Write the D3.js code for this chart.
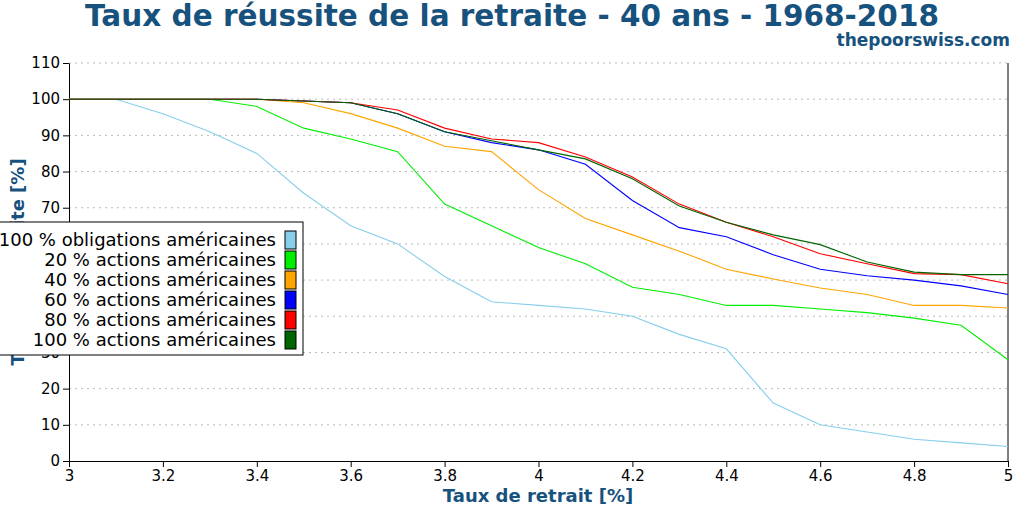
<!DOCTYPE html><html><head><meta charset="utf-8"><script src="https://cdn.jsdelivr.net/npm/d3@7"></script>
<style>body{margin:0;background:#fff}text{font-family:"DejaVu Sans"}</style></head><body><svg width="1024" height="512"></svg><script>
const rates=[3.0,3.1,3.2,3.3,3.4,3.5,3.6,3.7,3.8,3.9,4.0,4.1,4.2,4.3,4.4,4.5,4.6,4.7,4.8,4.9,5.0];
const bonds=[100,100,96,91,85,74,65,60,51,44,43,42,40,35,31,16,10,8,6,5,4];
const s20=[100,100,100,100,98,92,89,85.5,71,65,59,54.5,48,46,43,43,42,41,39.5,37.5,28];
const s40=[100,100,100,100,100,99,96,92,87,85.5,75,67,62.5,58,53,50.3,47.8,46,43,43,42.3];
const s60=[100,100,100,100,100,99.5,99,96,91,88,86,82,72,64.5,62,57,53,51.2,50,48.4,46];
const s80=[100,100,100,100,100,99.5,99,97,92,89,88,84,78.5,71,66,62,57.3,54.5,51.8,51.5,49];
const s100=[100,100,100,100,100,99.5,99,96,91,88.5,86,83.5,78,70.5,66,62.5,59.8,55,52.2,51.5,51.5];
const names=["100 % obligations américaines","20 % actions américaines","40 % actions américaines","60 % actions américaines","80 % actions américaines","100 % actions américaines"];
const colors=["#87ceeb","#00ee00","#ffa500","#0000ff","#ff0000","#006400"];
const series=[bonds,s20,s40,s60,s80,s100];
const yTicks=d3.range(0,111,10);
const svg=d3.select("svg");
const x=d3.scaleLinear().domain([3,5]).range([69,1008]);
const y=d3.scaleLinear().domain([0,110]).range([461,63]);
svg.append("g").selectAll("line").data(yTicks.slice(1)).join("line").attr("x1",69).attr("x2",1008).attr("y1",d=>y(d)).attr("y2",d=>y(d)).attr("stroke","#bbb").attr("stroke-dasharray","2,4");
const xa=svg.append("g").attr("transform","translate(0,461)").call(d3.axisBottom(x).tickValues(d3.range(3,5.01,0.2)).tickFormat(d=>d3.format("~g")(+d.toFixed(1))).tickSizeOuter(0));
const ya=svg.append("g").attr("transform","translate(69,0)").call(d3.axisLeft(y).tickValues(yTicks).tickSizeOuter(0));
svg.append("line").attr("x1",1008).attr("x2",1008).attr("y1",63).attr("y2",461).attr("stroke","#000");
[xa,ya].forEach(a=>{a.selectAll("text").attr("font-size",15).attr("fill","#000");a.select(".domain").attr("stroke","#000");});
const line=d3.line().x((d,i)=>x(rates[i])).y(d=>y(d));
series.forEach((s,k)=>svg.append("path").attr("d",line(s)).attr("fill","none").attr("stroke",colors[k]).attr("stroke-width",1.1));
svg.append("text").attr("x",512).attr("y",26).attr("text-anchor","middle").attr("font-size",29.5).attr("font-weight","bold").attr("fill","#17527e").text("Taux de réussite de la retraite - 40 ans - 1968-2018");
svg.append("text").attr("x",1010).attr("y",46).attr("text-anchor","end").attr("font-size",17).attr("font-weight","bold").attr("fill","#17527e").text("thepoorswiss.com");
svg.append("text").attr("x",538).attr("y",502).attr("text-anchor","middle").attr("font-size",18).attr("font-weight","bold").attr("fill","#17527e").text("Taux de retrait [%]");
svg.append("text").attr("transform","translate(24,262) rotate(-90)").attr("text-anchor","middle").attr("font-size",18).attr("font-weight","bold").attr("fill","#17527e").text("Taux de réussite [%]");
const lg=svg.append("g");
lg.append("rect").attr("x",-10).attr("y",222).attr("width",313).attr("height",133).attr("fill","#fff").attr("stroke","#000");
names.forEach((n,i)=>{const yy=240+i*20;
lg.append("text").attr("x",276).attr("y",yy+6).attr("text-anchor","end").attr("font-size",18).text(n);
lg.append("rect").attr("x",285).attr("y",yy-9).attr("width",11).attr("height",18).attr("fill",colors[i]).attr("stroke","#000");});
</script></body></html>
